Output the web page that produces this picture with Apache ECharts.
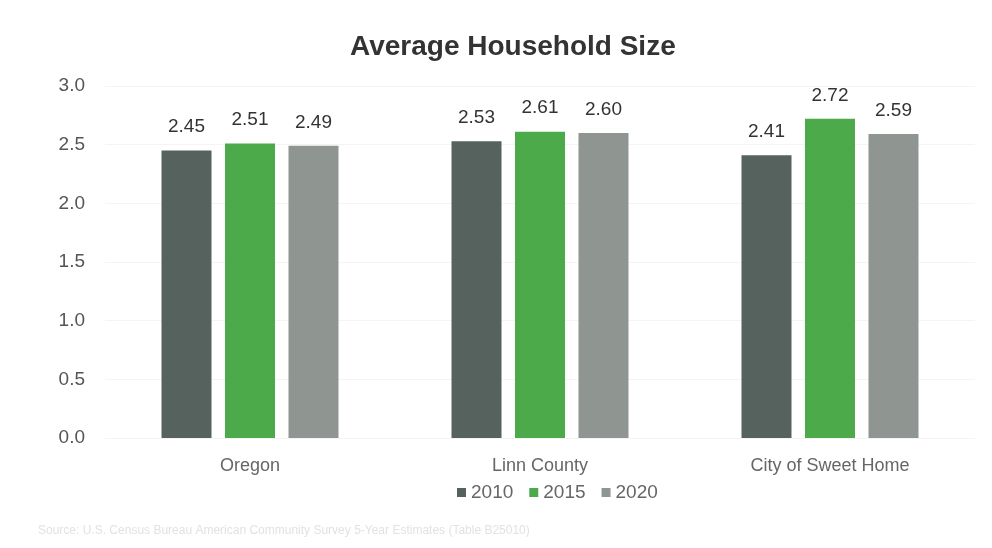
<!DOCTYPE html>
<html><head><meta charset="utf-8">
<script src="https://cdn.jsdelivr.net/npm/echarts@6/dist/echarts.min.js"></script>
<style>html,body{margin:0;padding:0;background:#fff}#c{width:992px;height:548px}</style>
</head><body><div id="c"></div>
<script>
const categories = ['Oregon', 'Linn County', 'City of Sweet Home'];
const years = ['2010', '2015', '2020'];
const values2010 = [2.45, 2.53, 2.41];
const values2015 = [2.51, 2.61, 2.72];
const values2020 = [2.49, 2.60, 2.59];
const yTicks = [0, 0.5, 1.0, 1.5, 2.0, 2.5, 3.0];
const colors = ['#56625e', '#4caa4a', '#8f9692'];
const sourceText = 'Source: U.S. Census Bureau American Community Survey 5-Year Estimates (Table B25010)';

const narrow = '"Liberation Sans Narrow", "Arial Narrow", "Liberation Sans", Arial, sans-serif';
const chart = echarts.init(document.getElementById('c'));
const seriesData = [values2010, values2015, values2020];
chart.setOption({
  animation: false,
  color: colors,
  title: [{
    text: 'Average Household Size', left: 345, top: 28,
    textStyle: {fontFamily: narrow, fontSize: 28, fontWeight: 'bold', color: '#333'}
  }, {
    text: sourceText, left: 33, top: 520,
    textStyle: {fontFamily: narrow, fontSize: 12, fontWeight: 'normal', color: '#e2e2e2'}
  }],
  legend: {
    data: years, bottom: 41, left: 452, icon: 'rect', itemWidth: 9, itemHeight: 9, itemGap: 16,
    textStyle: {fontFamily: narrow, fontSize: 19, color: '#666'}
  },
  grid: {left: 105, right: 17, top: 86, bottom: 110},
  xAxis: {
    type: 'category', data: categories,
    axisLine: {show: false}, axisTick: {show: false},
    axisLabel: {fontFamily: narrow, fontSize: 18, color: '#666', margin: 19}
  },
  yAxis: {
    type: 'value', min: 0, max: 3, interval: 0.5,
    axisLabel: {fontFamily: narrow, fontSize: 19, color: '#555', margin: 20,
      formatter: v => yTicks.includes(v) ? v.toFixed(1) : ''},
    splitLine: {lineStyle: {color: '#f4f4f4'}},
    axisLine: {show: false}, axisTick: {show: false}
  },
  series: years.map((y, i) => ({
    name: y, type: 'bar', data: seriesData[i], barWidth: 50, barGap: '27%',
    label: {show: true, position: 'top', distance: 14, fontFamily: narrow, fontSize: 19, color: '#333',
      formatter: p => p.value.toFixed(2)}
  }))
});
</script></body></html>
